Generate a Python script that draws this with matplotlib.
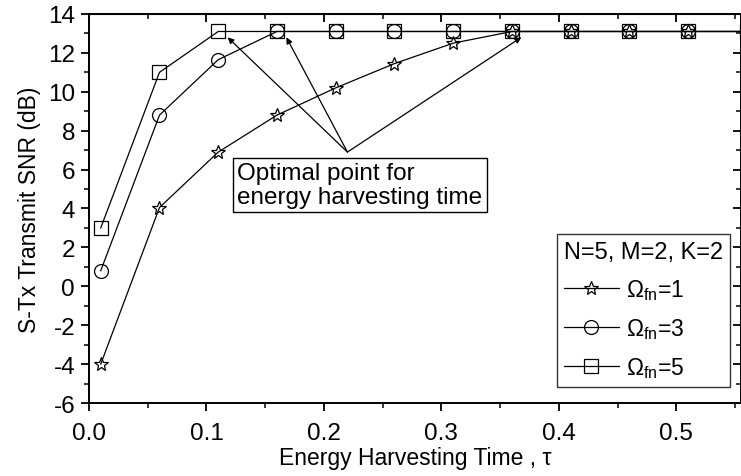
import numpy as np
import matplotlib
matplotlib.use("Agg")
import matplotlib.pyplot as plt
from matplotlib.ticker import MultipleLocator

plt.rcParams["font.family"] = ["Liberation Sans", "DejaVu Sans"]
plt.rcParams["mathtext.fontset"] = "custom"
plt.rcParams["mathtext.rm"] = "Liberation Sans"
plt.rcParams["mathtext.it"] = "Liberation Sans:italic"
plt.rcParams["axes.unicode_minus"] = False

# energy harvesting time
tau = [0.01, 0.06, 0.11, 0.16, 0.21, 0.26, 0.31, 0.36, 0.41, 0.46, 0.51, 0.56]
# transmit SNR (dB)
snr_w1 = [-4.0, 4.05, 6.9, 8.8, 10.2, 11.45, 12.5, 13.1, 13.1, 13.1, 13.1, 13.1]
snr_w3 = [0.8, 8.8, 11.65, 13.1, 13.1, 13.1, 13.1, 13.1, 13.1, 13.1, 13.1, 13.1]
snr_w5 = [3.0, 11.0, 13.1, 13.1, 13.1, 13.1, 13.1, 13.1, 13.1, 13.1, 13.1, 13.1]
labels = [r"$\Omega_{\mathrm{fn}}$=1", r"$\Omega_{\mathrm{fn}}$=3", r"$\Omega_{\mathrm{fn}}$=5"]
optimal_idx = [7, 3, 2]  # index of the optimal point of each curve

fig = plt.figure(figsize=(7.41, 4.77), dpi=100)
ax = fig.add_axes([0.1201, 0.153, 0.8799, 0.8156])

styles = [("*", 10.5), ("o", 10), ("s", 9.5)]
series = [snr_w1, snr_w3, snr_w5]
for y, (m, ms), lab in zip(series, styles, labels):
    ax.plot(tau, y, color="black", lw=0.9, marker=m, ms=ms,
            mfc="none", mec="black", mew=0.9, label=lab)

ax.set_xlim(0, 0.555)
ax.set_ylim(-6, 14)
ax.xaxis.set_major_locator(MultipleLocator(0.1))
ax.xaxis.set_minor_locator(MultipleLocator(0.05))
ax.yaxis.set_major_locator(MultipleLocator(2))
ax.yaxis.set_minor_locator(MultipleLocator(1))
ax.xaxis.set_major_formatter(plt.FormatStrFormatter("%.1f"))
ax.tick_params(axis="both", which="major", labelsize=17.5, length=6, width=1.3,
               direction="out")
ax.tick_params(axis="x", which="major", pad=8)
ax.tick_params(axis="y", which="major", pad=4)
ax.tick_params(axis="both", which="minor", length=3.5, width=1.1, direction="out")
for s in ax.spines.values():
    s.set_linewidth(1.4)

# mirrored inward ticks on top/right
axt = ax.secondary_xaxis("top")
axt.xaxis.set_major_locator(MultipleLocator(0.1))
axt.xaxis.set_minor_locator(MultipleLocator(0.05))
axt.tick_params(which="major", direction="in", length=6, width=1.3, labeltop=False)
axt.tick_params(which="minor", direction="in", length=3.5, width=1.1)
axr = ax.secondary_yaxis("right")
axr.yaxis.set_major_locator(MultipleLocator(2))
axr.yaxis.set_minor_locator(MultipleLocator(1))
axr.tick_params(which="major", direction="in", length=6, width=1.3, labelright=False)
axr.tick_params(which="minor", direction="in", length=3.5, width=1.1)

ax.set_xlabel("Energy Harvesting Time , τ", fontsize=16.5, labelpad=1)
ax.set_ylabel("S-Tx Transmit SNR (dB)", fontsize=16.5, labelpad=5)

# annotation
ax.text(0.126, 5.22, "Optimal point for\nenergy harvesting time", fontsize=17.5,
        ha="left", va="center", linespacing=1.1,
        bbox=dict(boxstyle="square,pad=0.18", fc="white", ec="black", lw=1))
start = (0.22, 6.9)
for y, i in zip(series, optimal_idx):
    ax.annotate("", xy=(tau[i] + 0.008, y[i] - 0.3), xytext=start,
                arrowprops=dict(arrowstyle="-|>", color="black", lw=0.9,
                                mutation_scale=9, shrinkA=0, shrinkB=0))

leg = ax.legend(title="N=5, M=2, K=2", loc="lower right",
                bbox_to_anchor=(0.983, 0.041), fontsize=16.5, title_fontsize=17,
                frameon=True, fancybox=False, edgecolor="black",
                handlelength=2.4, handletextpad=0.3, borderpad=0.3,
                labelspacing=0.62, borderaxespad=0)
leg.get_frame().set_linewidth(1.0)
leg._legend_box.align = "left"

fig.savefig("out.png", dpi=100)
